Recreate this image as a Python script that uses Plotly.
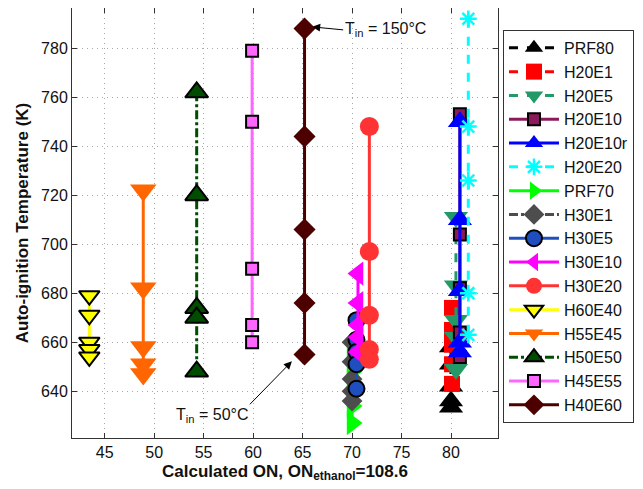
import plotly.graph_objects as go

# ---- data ----
names = ["PRF80", "H20E1", "H20E5", "H20E10", "H20E10r", "H20E20", "PRF70",
         "H30E1", "H30E5", "H30E10", "H30E20", "H60E40", "H55E45", "H50E50",
         "H45E55", "H40E60"]
on_values = [80.0, 80.1, 80.5, 80.9, 80.9, 81.75, 70.0,
             70.0, 70.45, 70.6, 71.75, 43.45, 48.9, 54.3,
             59.9, 65.2]
PRF80 = [658, 651, 642, 636, 633.5]
H20E1 = [674, 665, 659, 651, 643]
H20E5 = [711, 683, 669, 662, 649]
H20E10 = [753, 704, 682, 664, 654]
H20E10r = [750, 710, 681, 660, 656]
H20E20 = [792, 748, 726, 680, 663]
PRF70 = [655, 648, 644, 634, 627]
H30E1 = [660, 652, 645, 640, 636]
H30E5 = [669, 661, 656, 651, 641]
H30E10 = [688, 676, 667, 662, 656]
H30E20 = [748, 697, 671, 657, 653]
H60E40 = [679, 671, 660, 657, 654]
H55E45 = [722, 682, 658, 651, 647]
H50E50 = [762, 720, 674, 670, 648]
H45E55 = [779, 750, 690, 667, 660]
H40E60 = [788, 744, 706, 676, 655]
temps = [PRF80, H20E1, H20E5, H20E10, H20E10r, H20E20, PRF70, H30E1, H30E5,
         H30E10, H30E20, H60E40, H55E45, H50E50, H45E55, H40E60]
x_ticks = [45, 50, 55, 60, 65, 70, 75, 80]
y_ticks = [640, 660, 680, 700, 720, 740, 760, 780]

# ---- styles ----
styles = {
    "PRF80":  dict(c="#000000", sym="triangle-up", size=21, dash="dash", out=None),
    "H20E1":  dict(c="#ff0000", sym="square", size=16, dash="dash", out=None),
    "H20E5":  dict(c="#229966", sym="triangle-down", size=21, dash="dash", out=None),
    "H20E10": dict(c="#8b1a5a", sym="square", size=12, dash="solid", out="#000000"),
    "H20E10r": dict(c="#0000ff", sym="triangle-up", size=21, dash="solid", out=None),
    "H20E20": dict(c="#00ffff", sym="asterisk-open", size=14, dash="dash", out="#00ffff"),
    "PRF70":  dict(c="#00ff00", sym="triangle-right", size=21, dash="solid", out=None),
    "H30E1":  dict(c="#4d4d4d", sym="diamond", size=16, dash="dashdot", out=None),
    "H30E5":  dict(c="#1f4fbf", sym="circle", size=16, dash="solid", out="#000000"),
    "H30E10": dict(c="#ff00ff", sym="triangle-left", size=21, dash="solid", out=None),
    "H30E20": dict(c="#ff3333", sym="circle", size=19, dash="solid", out=None),
    "H60E40": dict(c="#ffff00", sym="triangle-down", size=18, dash="solid", out="#000000"),
    "H55E45": dict(c="#ff6600", sym="triangle-down", size=23, dash="solid", out=None),
    "H50E50": dict(c="#004d00", sym="triangle-up", size=20, dash="dashdot", out="#000000"),
    "H45E55": dict(c="#ff66ff", sym="square", size=12, dash="solid", out="#000000"),
    "H40E60": dict(c="#4d0000", sym="diamond", size=17, dash="solid", out=None),
}

fig = go.Figure()
for name, xv, tv in zip(names, on_values, temps):
    s = styles[name]
    if s["sym"] == "asterisk-open":
        mline = dict(color=s["c"], width=2.5)
    elif s["out"]:
        mline = dict(color=s["out"], width=2)
    else:
        mline = dict(width=0)
    fig.add_trace(go.Scatter(
        x=[xv] * len(tv), y=tv, name=name,
        mode="lines+markers",
        line=dict(color=s["c"], width=3, dash=s["dash"]),
        marker=dict(symbol=s["sym"], size=s["size"], color=s["c"], line=mline),
    ))

font_family = "Liberation Sans, Arial, sans-serif"
axis_common = dict(
    showline=True, linecolor="#333333", linewidth=1, mirror="ticks",
    ticks="inside", ticklen=5, tickcolor="#333333",
    showgrid=True, gridcolor="#a8a8a8", griddash="1px,4px", gridwidth=1,
    zeroline=False, automargin=False,
    tickfont=dict(size=16, color="#111111", family=font_family),
)
fig.update_xaxes(range=[41.7, 84.75], tickvals=x_ticks, **axis_common,
                 title=dict(text="<b>Calculated ON, ON<sub>ethanol</sub>=108.6</b>",
                            font=dict(size=17, color="#111111", family=font_family),
                            standoff=4))
fig.update_yaxes(range=[620.9, 796.4], tickvals=y_ticks, **axis_common,
                 title=dict(text="<b>Auto-ignition Temperature (K)</b>",
                            font=dict(size=17, color="#111111", family=font_family),
                            standoff=8))

fig.add_annotation(x=65.97, y=788.7, xref="x", yref="y",
                   text="T<sub>in</sub> = 150°C", showarrow=True,
                   ax=31, ay=3, xanchor="left", yanchor="middle",
                   arrowhead=2, arrowsize=1.6, arrowwidth=1, arrowcolor="#000000",
                   font=dict(size=16, color="#111111", family=font_family))
fig.add_annotation(x=63.92, y=652.2, xref="x", yref="y",
                   text="T<sub>in</sub> = 50°C", showarrow=True,
                   ax=-42, ay=43, xanchor="right", yanchor="top",
                   arrowhead=2, arrowsize=1.6, arrowwidth=1, arrowcolor="#000000",
                   font=dict(size=16, color="#111111", family=font_family))

fig.update_layout(
    width=635, height=481,
    margin=dict(l=64, r=145, t=0, b=51, autoexpand=False),
    paper_bgcolor="white", plot_bgcolor="white",
    font=dict(family=font_family, color="#111111"),
    legend=dict(x=1.0117, y=0.949, xanchor="left", yanchor="top",
                bgcolor="white", bordercolor="#333333", borderwidth=1,
                font=dict(size=16, family=font_family, color="#111111"),
                traceorder="normal", itemwidth=50),
)
fig.write_html("out.html")
